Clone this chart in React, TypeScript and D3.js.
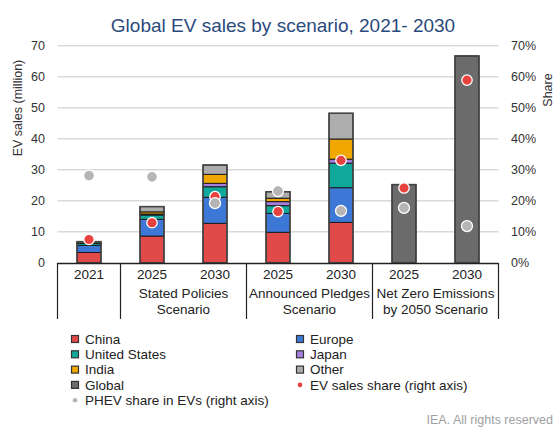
import React from 'react'
import * as d3 from 'd3'

const categories = ['2021', 'STEPS 2025', 'STEPS 2030', 'APS 2025', 'APS 2030', 'NZE 2025', 'NZE 2030']
const yearLabels = ['2021', '2025', '2030', '2025', '2030', '2025', '2030']
const groupLabels = [
  { from: 1, to: 2, lines: ['Stated Policies', 'Scenario'] },
  { from: 3, to: 4, lines: ['Announced Pledges', 'Scenario'] },
  { from: 5, to: 6, lines: ['Net Zero Emissions', 'by 2050 Scenario'] },
]
const separators = [0, 1, 3, 5, 7]

const regions = ['China', 'Europe', 'United States', 'Japan', 'India', 'Other', 'Global']
const china = [3.3, 8.6, 12.7, 9.8, 13.0, 0, 0]
const europe = [2.3, 5.4, 8.4, 6.1, 11.2, 0, 0]
const unitedStates = [0.6, 1.4, 3.4, 2.5, 7.9, 0, 0]
const japan = [0.1, 0.3, 1.1, 1.3, 1.3, 0, 0]
const india = [0.05, 0.7, 2.9, 1.1, 6.5, 0, 0]
const other = [0.45, 1.7, 3.0, 2.1, 8.3, 0, 0]
const globalOnly = [0, 0, 0, 0, 0, 25.2, 66.7]

const evShare = [0.075, 0.129, 0.213, 0.165, 0.33, 0.241, 0.589]
const phevShare = [0.281, 0.277, 0.192, 0.231, 0.167, 0.177, 0.118]

const yTicks = [0, 10, 20, 30, 40, 50, 60, 70]
const shareTicks = [0, 0.1, 0.2, 0.3, 0.4, 0.5, 0.6, 0.7]

const colors: Record<string, string> = {
  China: '#e24a4a',
  Europe: '#3d78d6',
  'United States': '#10a89b',
  Japan: '#a57ee0',
  India: '#f0a800',
  Other: '#adadad',
  Global: '#6b6b6b',
}

const W = 558
const H = 430
const font = 'Arial, "Liberation Sans", sans-serif'
const X0 = 57.5
const X1 = 498.5

export default function App() {
  const x = d3.scaleBand<string>().domain(categories).range([X0, X1]).paddingInner(0.62).paddingOuter(0.31)
  const y = d3.scaleLinear().domain([0, 70]).range([262.7, 45.7])
  const yR = d3.scaleLinear().domain([0, 0.7]).range([262.7, 45.7])

  const rows = categories.map((c, i) => ({
    key: c,
    China: china[i],
    Europe: europe[i],
    'United States': unitedStates[i],
    Japan: japan[i],
    India: india[i],
    Other: other[i],
    Global: globalOnly[i],
  }))
  const stack = d3.stack<any>().keys(regions)(rows)
  const totals = rows.map(r => regions.reduce((s, k) => s + (r as any)[k], 0))

  const step = x.step()
  const sepX = (k: number) => X0 + k * step
  const mid = (i: number) => (x(categories[i]) as number) + x.bandwidth() / 2

  const legend = [
    { label: 'China', type: 'rect', col: 0 },
    { label: 'Europe', type: 'rect', col: 1 },
    { label: 'United States', type: 'rect', col: 0 },
    { label: 'Japan', type: 'rect', col: 1 },
    { label: 'India', type: 'rect', col: 0 },
    { label: 'Other', type: 'rect', col: 1 },
    { label: 'Global', type: 'rect', col: 0 },
    { label: 'EV sales share (right axis)', type: 'ev', col: 1 },
    { label: 'PHEV share in EVs (right axis)', type: 'phev', col: 0 },
  ]

  return (
    <svg width={W} height={H} style={{ position: 'absolute', left: 0, top: 0, background: '#fff' }} fontFamily={font}>
      <text x={283} y={32} textAnchor="middle" fontSize={19} fill="#2b4a7c">
        Global EV sales by scenario, 2021- 2030
      </text>

      {/* gridlines */}
      {yTicks.slice(1).map(t => (
        <line key={t} x1={X0} x2={X1} y1={y(t)} y2={y(t)} stroke="#d9d9d9" strokeWidth={1.5} />
      ))}
      {yTicks.map(t => (
        <text key={t} x={45} y={y(t) + 4.5} textAnchor="end" fontSize={12.5} fill="#333">{t}</text>
      ))}
      {shareTicks.map(t => (
        <text key={t} x={511} y={yR(t) + 4.5} fontSize={12.5} fill="#333">{d3.format('.0%')(t)}</text>
      ))}
      <text transform="translate(22,108) rotate(-90)" textAnchor="middle" fontSize={12.5} fill="#333">EV sales (million)</text>
      <text transform="translate(552,90) rotate(-90)" textAnchor="middle" fontSize={12.5} fill="#333">Share</text>

      {/* stacked bars */}
      {stack.map(layer => (
        <g key={layer.key}>
          {layer.map((d, i) => (
            d[1] - d[0] > 0 ? (
              <rect key={i} x={x(categories[i])} width={x.bandwidth()} y={y(d[1])} height={y(d[0]) - y(d[1])}
                fill={colors[layer.key]} stroke="#1a1a1a" strokeWidth={1} />
            ) : null
          ))}
        </g>
      ))}
      {totals.map((t, i) => (
        <rect key={i} x={x(categories[i])} width={x.bandwidth()} y={y(t)} height={y(0) - y(t)}
          fill="none" stroke="#444" strokeWidth={1.5} />
      ))}

      {/* share markers */}
      {evShare.map((v, i) => (
        <circle key={'ev' + i} cx={mid(i)} cy={yR(v)} r={5.2} fill="#e8423f" stroke="#fff" strokeWidth={1.3} />
      ))}
      {phevShare.map((v, i) => (
        <circle key={'ph' + i} cx={mid(i)} cy={yR(v)} r={5.5} fill="#b5b5b5" stroke="#fff" strokeWidth={1.3} />
      ))}

      {/* category axis */}
      <line x1={X0} x2={X1} y1={263.5} y2={263.5} stroke="#222" strokeWidth={1.5} />
      {separators.map(k => (
        <line key={k} x1={sepX(k)} x2={sepX(k)} y1={263} y2={319} stroke="#222" strokeWidth={1.2} />
      ))}
      {yearLabels.map((l, i) => (
        <text key={i} x={mid(i)} y={279} textAnchor="middle" fontSize={13.5} fill="#222">{l}</text>
      ))}
      {groupLabels.map((g, gi) => {
        const cx = (sepX(g.from) + sepX(g.to + 1)) / 2
        return g.lines.map((ln, li) => (
          <text key={gi + '-' + li} x={cx} y={298 + li * 16} textAnchor="middle" fontSize={13.5} fill="#222">{ln}</text>
        ))
      })}

      {/* legend */}
      {legend.map((l, i) => {
        const row = Math.floor(i / 2)
        const lx = l.col === 0 ? 75 : 300
        const ly = 339 + row * 15.3
        return (
          <g key={l.label}>
            {l.type === 'rect' && (
              <rect x={lx - 3.5} y={ly - 3.5} width={7} height={7} fill={colors[l.label]} stroke="#333" strokeWidth={1.2} />
            )}
            {l.type === 'ev' && <circle cx={lx} cy={ly} r={2.3} fill="#e8423f" />}
            {l.type === 'phev' && <circle cx={lx} cy={ly} r={2.3} fill="#b5b5b5" />}
            <text x={lx + 10} y={ly + 4.7} fontSize={13.5} fill="#222">{l.label}</text>
          </g>
        )
      })}

      <text x={553} y={424} textAnchor="end" fontSize={12.5} fill="#a0a0a0">IEA. All rights reserved</text>
    </svg>
  )
}
